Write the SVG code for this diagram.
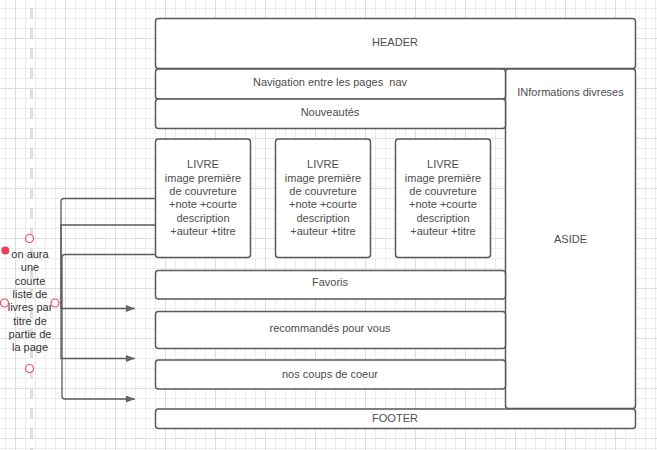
<svg xmlns="http://www.w3.org/2000/svg" width="657" height="450" viewBox="0 0 657 450">
<style>
.box{fill:#ffffff;stroke:#5a5a5a;stroke-width:1.5}
.t{font-family:"Liberation Sans",Arial,sans-serif;font-size:11px;fill:#4d4d4d;text-anchor:middle}
.n{fill:#333333}
.edge{fill:none;stroke:#5a5a5a;stroke-width:1.3;stroke-linejoin:round}
.handle{fill:#ffffff;stroke:#e8505f;stroke-width:1.2}
</style>
<defs>
<pattern id="minor" x="5" y="8" width="10" height="10" patternUnits="userSpaceOnUse">
<path d="M0 0.5H10M0.5 0V10" stroke="#ececec" stroke-width="1" fill="none"/>
</pattern>
<pattern id="major" x="15" y="38" width="50" height="50" patternUnits="userSpaceOnUse">
<path d="M0 0.5H50M0.5 0V50" stroke="#dedede" stroke-width="1" fill="none"/>
</pattern>
<marker id="arr" markerUnits="userSpaceOnUse" markerWidth="10" markerHeight="8" refX="9" refY="3.5" orient="auto">
<path d="M0 0L9 3.5L0 7z" fill="#666666"/>
</marker>
</defs>
<rect width="657" height="450" fill="#ffffff"/>
<rect width="657" height="450" fill="url(#minor)"/>
<rect width="657" height="450" fill="url(#major)"/>
<line x1="31.5" y1="0" x2="31.5" y2="450" stroke="#dddddd" stroke-width="3" stroke-dasharray="10 10" stroke-dashoffset="12"/>

<g id="connectors">
<path class="edge" d="M155 198.5H64Q61 198.5 61 201.5V308.5H135" marker-end="url(#arr)"/>
<path class="edge" d="M155 225H61V358.5H135" marker-end="url(#arr)"/>
<path class="edge" d="M155 254.5H65Q62 254.5 62 257.5V396Q62 399 65 399H135" marker-end="url(#arr)"/>
</g>

<g id="header"><rect class="box" x="155.5" y="18.5" width="480" height="50" rx="3"/><text class="t" x="395" y="46">HEADER</text></g>
<g id="aside"><rect class="box" x="505.5" y="69" width="130" height="339.5" rx="3"/><text class="t" x="570.5" y="96">INformations divreses</text><text class="t" x="570.5" y="243">ASIDE</text></g>
<g id="nav"><rect class="box" x="155.5" y="69" width="350" height="30" rx="3"/><text class="t" x="330" y="86" xml:space="preserve">Navigation entre les pages  nav</text></g>
<g id="nouveautes"><rect class="box" x="155.5" y="99" width="350" height="29.5" rx="3"/><text class="t" x="330" y="116">Nouveautés</text></g>

<g id="livre1"><rect class="box" x="155.5" y="139" width="95" height="118.5" rx="3"/>
<text class="t" x="203" y="168.3"><tspan x="203">LIVRE</tspan><tspan x="203" dy="13.3">image première</tspan><tspan x="203" dy="13.3">de couvreture</tspan><tspan x="203" dy="13.3">+note +courte</tspan><tspan x="203" dy="13.3">description</tspan><tspan x="203" dy="13.3">+auteur +titre</tspan></text></g>
<g id="livre2"><rect class="box" x="275.5" y="139" width="95" height="118.5" rx="3"/>
<text class="t" x="323" y="168.3"><tspan x="323">LIVRE</tspan><tspan x="323" dy="13.3">image première</tspan><tspan x="323" dy="13.3">de couvreture</tspan><tspan x="323" dy="13.3">+note +courte</tspan><tspan x="323" dy="13.3">description</tspan><tspan x="323" dy="13.3">+auteur +titre</tspan></text></g>
<g id="livre3"><rect class="box" x="395.5" y="139" width="95" height="118.5" rx="3"/>
<text class="t" x="443" y="168.3"><tspan x="443">LIVRE</tspan><tspan x="443" dy="13.3">image première</tspan><tspan x="443" dy="13.3">de couvreture</tspan><tspan x="443" dy="13.3">+note +courte</tspan><tspan x="443" dy="13.3">description</tspan><tspan x="443" dy="13.3">+auteur +titre</tspan></text></g>

<g id="favoris"><rect class="box" x="155.5" y="270.5" width="350" height="28.5" rx="3"/><text class="t" x="330" y="286">Favoris</text></g>
<g id="recommandes"><rect class="box" x="155.5" y="311.5" width="350" height="37" rx="3"/><text class="t" x="330" y="332">recommandés pour vous</text></g>
<g id="coups"><rect class="box" x="155.5" y="360" width="350" height="29" rx="3"/><text class="t" x="330" y="378">nos coups de coeur</text></g>
<g id="footer"><rect class="box" x="155.5" y="409" width="480" height="19.5" rx="3"/><text class="t" x="395" y="422">FOOTER</text></g>

<g id="note">
<text class="t n" x="30" y="258"><tspan x="30">on aura</tspan><tspan x="30" dy="13.3">une</tspan><tspan x="30" dy="13.3">courte</tspan><tspan x="30" dy="13.3">liste de</tspan><tspan x="30" dy="13.3">livres par</tspan><tspan x="30" dy="13.3">titre de</tspan><tspan x="30" dy="13.3">partie de</tspan><tspan x="30" dy="13.3">la page</tspan></text>
<circle class="handle" cx="29.5" cy="238.5" r="4"/>
<circle class="handle" cx="4.5" cy="303" r="4"/>
<circle class="handle" cx="55" cy="303" r="4"/>
<circle class="handle" cx="29.5" cy="368.5" r="4"/>
<circle cx="5.3" cy="250.5" r="4" fill="#e0405a"/>
</g>
</svg>
